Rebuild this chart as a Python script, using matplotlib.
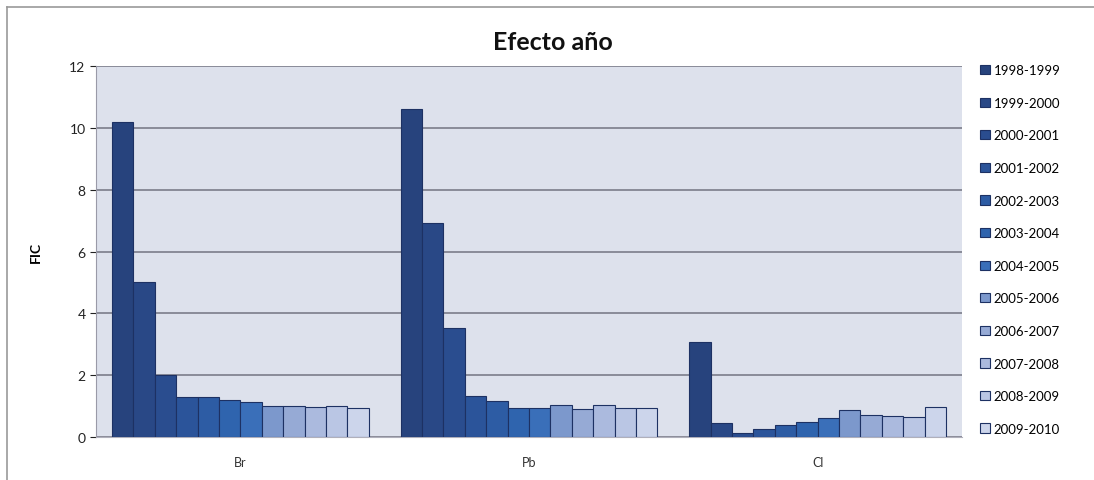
import matplotlib
matplotlib.use("Agg")
import matplotlib.pyplot as plt
import numpy as np
from matplotlib.lines import Line2D

plt.rcParams['font.family'] = ['Lato', 'DejaVu Sans']

categories = ["Br", "Pb", "Cl"]
seasons = ["1998-1999", "1999-2000", "2000-2001", "2001-2002", "2002-2003",
           "2003-2004", "2004-2005", "2005-2006", "2006-2007", "2007-2008",
           "2008-2009", "2009-2010"]
br = [10.2, 5.0, 2.0, 1.3, 1.3, 1.2, 1.12, 1.01, 1.0, 0.98, 1.0, 0.95]
pb = [10.6, 6.92, 3.52, 1.32, 1.16, 0.95, 0.95, 1.05, 0.9, 1.02, 0.95, 0.95]
cl = [3.06, 0.46, 0.14, 0.27, 0.4, 0.47, 0.6, 0.86, 0.71, 0.69, 0.65, 0.96]
values = np.array([br, pb, cl])  # categories x seasons

colors = ["#27437d", "#294886", "#2a4d8f", "#2b549a", "#2d5ca4", "#2f64ae",
          "#3a6fb9", "#7c98cc", "#96aad5", "#abbade", "#bac6e4", "#ccd5eb"]
edge = "#1d3163"

fig = plt.figure(figsize=(10.94, 4.81), dpi=100)
fig.patch.set_facecolor("white")
ax = fig.add_axes([96/1094, 1-438/481, (962-96)/1094, (438-67)/481])
ax.set_facecolor("#dde1ec")

n = len(seasons)
group_w = 0.89
w = group_w / n
x = np.arange(len(categories))
for j in range(n):
    ax.bar(x + (j - (n - 1) / 2) * w, values[:, j], width=w, color=colors[j],
           edgecolor=edge, linewidth=0.8, label=seasons[j], zorder=3)

ax.set_xlim(-0.5, 2.5)
ax.set_ylim(0, 12)
ax.set_yticks(range(0, 13, 2))
ax.yaxis.grid(True, color="#7b7d8a", linewidth=1.2, zorder=0)
ax.set_axisbelow(True)
ax.set_xticks(x)
ax.set_xticklabels(categories, fontsize=9, color="#333333")
ax.tick_params(axis="y", labelsize=10, colors="#222222", length=4, width=0.8)
ax.tick_params(axis="x", length=0, pad=14)
for s in ["top", "right"]:
    ax.spines[s].set_visible(False)
ax.spines["left"].set_color("#9a9aa8")
ax.spines["bottom"].set_color("#b0b0bb")
ax.set_ylabel("FIC", fontsize=10, fontweight="bold", labelpad=20)

fig.text(553/1094, 1-42/481, "Efecto año", fontsize=18, fontweight="bold",
         ha="center", va="center", color="#111111")

handles, labels = ax.get_legend_handles_labels()
leg = fig.legend(handles, labels, loc="upper left",
                 bbox_to_anchor=(975/1094, 1-60/481), frameon=False,
                 fontsize=9.5, labelspacing=1.56, handlelength=0.7,
                 handleheight=0.7, handletextpad=0.3, borderaxespad=0)

# outer chart border (left and top edges visible in the scan)
fig.add_artist(Line2D([7/1094, 7/1094], [0, 1-8/481], transform=fig.transFigure,
                      color="#9a9a9a", linewidth=1.2))
fig.add_artist(Line2D([7/1094, 1], [1-8/481, 1-8/481], transform=fig.transFigure,
                      color="#9a9a9a", linewidth=1.2))

fig.savefig("out.png", dpi=100)
